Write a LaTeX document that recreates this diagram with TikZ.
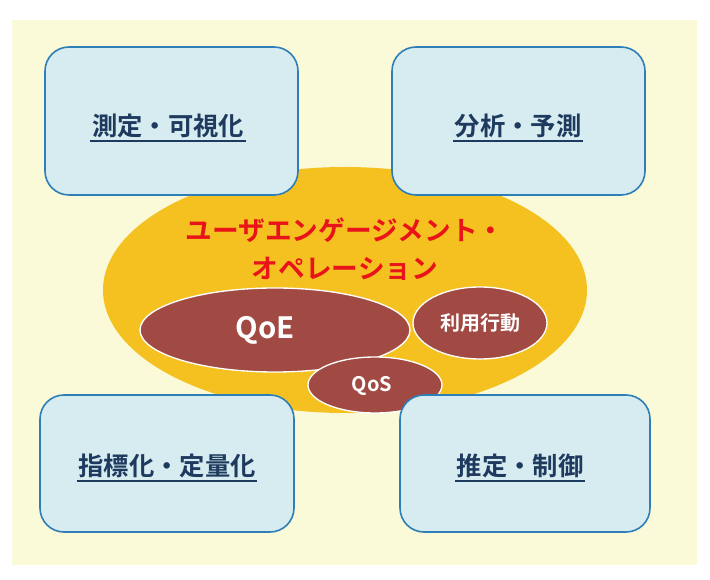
\documentclass[tikz,border=0pt]{standalone}
\usepackage{fontspec}
\newfontfamily\jpfont{Noto Sans CJK JP}[BoldFont={* Bold}]
\definecolor{bgyellow}{HTML}{FAF9D8}
\definecolor{ovalorange}{HTML}{F5C120}
\definecolor{boxblue}{HTML}{D6ECF0}
\definecolor{boxline}{HTML}{2E7FB8}
\definecolor{navy}{HTML}{1F3A5F}
\definecolor{brick}{HTML}{A14A43}
\definecolor{titlered}{HTML}{E8141A}
\tikzset{
  areabox/.style={draw=boxline, line width=1.2pt, fill=boxblue, rounded corners=18pt},
  arealabel/.style={font=\jpfont\bfseries\fontsize{19}{22}\selectfont, text=navy, inner sep=1pt},
  subfield/.style={draw=white, line width=1pt, fill=brick},
  sublabel/.style={font=\jpfont\bfseries, text=white}
}
\newcommand\underlinenode[1]{\draw[navy, line width=1pt] ([yshift=-1pt]#1.south west) -- ([yshift=-1pt]#1.south east);}
\begin{document}
\begin{tikzpicture}[x=0.75pt,y=-0.75pt]
		\useasboundingbox (0,0) rectangle (710,580);
		% Hintergrund
		\fill[bgyellow] (12,20) rectangle (697,565);

		% Zentrales Feld
		\fill[ovalorange] (345,290) ellipse [x radius=242, y radius=123];
		\node[font=\jpfont\bfseries\fontsize{20}{28}\selectfont, text=titlered, align=center] (title) at (345,249)
		  {ユーザエンゲージメント・\\オペレーション};

		% Teilbereiche
		\draw[subfield] (275,330) ellipse [x radius=135, y radius=42];
		\draw[subfield] (375,385) ellipse [x radius=67, y radius=28];
		\draw[subfield] (480,323) ellipse [x radius=67, y radius=36];
		\node[sublabel, font=\jpfont\bfseries\fontsize{22}{24}\selectfont] (qoe) at (265,330) {QoE};
		\node[sublabel, font=\jpfont\bfseries\fontsize{15}{18}\selectfont] (qos) at (372,386) {QoS};
		\node[sublabel, font=\jpfont\bfseries\fontsize{15}{18}\selectfont] (usage) at (480,323) {利用行動};

		% Vier Bereiche
		\draw[areabox] (45,47) rectangle (298,195);
		\draw[areabox] (392,47) rectangle (645,195);
		\draw[areabox] (40,395) rectangle (294,532);
		\draw[areabox] (400,395) rectangle (650,532);
		\node[arealabel] (measure) at (168,126) {測定・可視化};
		\node[arealabel] (analyze) at (518,126) {分析・予測};
		\node[arealabel] (index) at (167,466) {指標化・定量化};
		\node[arealabel] (control) at (520,466) {推定・制御};
		\underlinenode{measure}
		\underlinenode{analyze}
		\underlinenode{index}
		\underlinenode{control}
	\end{tikzpicture}
\end{document}
